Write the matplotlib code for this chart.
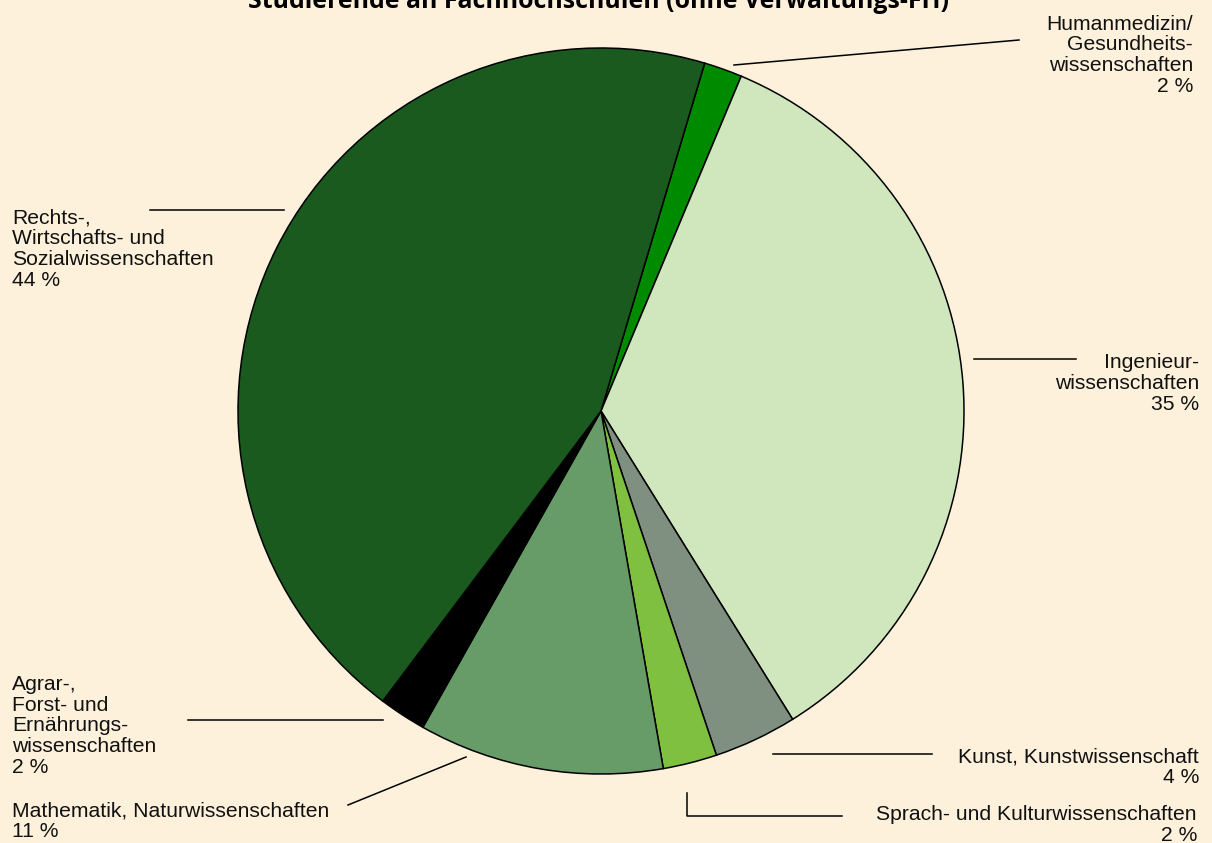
import matplotlib.pyplot as plt

# Anteile der Studierenden in %, im Uhrzeigersinn ab 12 Uhr
faecher = ["Humanmedizin/\nGesundheits-\nwissenschaften",
           "Ingenieur-\nwissenschaften",
           "Kunst, Kunstwissenschaft",
           "Sprach- und Kulturwissenschaften",
           "Mathematik, Naturwissenschaften",
           "Agrar-,\nForst- und\nErnährungs-\nwissenschaften",
           "Rechts-,\nWirtschafts- und\nSozialwissenschaften"]
anteile = [1.7, 34.8, 3.7, 2.4, 10.9, 2.1, 44.3]
farben = ['#008a00', '#d0e6bc', '#7f9080', '#80c040', '#679b68', '#000000', '#1a5a1e']

bg = '#fdf1dc'
plt.rcParams['font.family'] = ['Liberation Sans', 'DejaVu Sans']

fig = plt.figure(figsize=(12.12, 8.43), dpi=100, facecolor=bg)
ax = fig.add_axes([0, 0, 1, 1])
ax.set_facecolor(bg)

ax.pie(anteile, colors=farben, center=(601, 411), radius=363,
       startangle=-73.4, counterclock=True,
       wedgeprops=dict(edgecolor='black', linewidth=1.1))

ax.set_xlim(0, 1212)
ax.set_ylim(843, 0)
ax.set_aspect('equal')
ax.axis('off')

# Beschriftung: (text x, letzte Grundlinie y, Ausrichtung, Linienpunkte)
layout = [
    (1193, 92, 'right', [(734, 65), (1019, 40)]),
    (1199, 410, 'right', [(974, 359), (1076, 359)]),
    (1199, 783, 'right', [(773, 754), (932, 754)]),
    (1197, 841, 'right', [(687, 793), (687, 816), (842, 816)]),
    (12, 837, 'left', [(348, 805), (466, 757)]),
    (12, 773, 'left', [(188, 720), (383, 720)]),
    (12, 286, 'left', [(150, 210), (284, 210)]),
]

for name, wert, (tx, ty, ha, pts) in zip(faecher, anteile, layout):
    text = name + "\n" + f"{round(wert)} %"
    ax.text(tx, ty, text, ha=ha, va='baseline', multialignment=ha,
            fontsize=15.2, linespacing=1.12, color='#111111')
    xs = [p[0] for p in pts]
    ys = [p[1] for p in pts]
    ax.plot(xs, ys, color='black', linewidth=1.1)

ax.text(598, 8.5, "Studierende an Fachhochschulen (ohne Verwaltungs-FH)",
        ha='center', va='baseline', fontsize=17.9, fontweight='bold',
        family=['Open Sans', 'DejaVu Sans'], color='black')

fig.savefig('out.png', dpi=100, facecolor=bg)
